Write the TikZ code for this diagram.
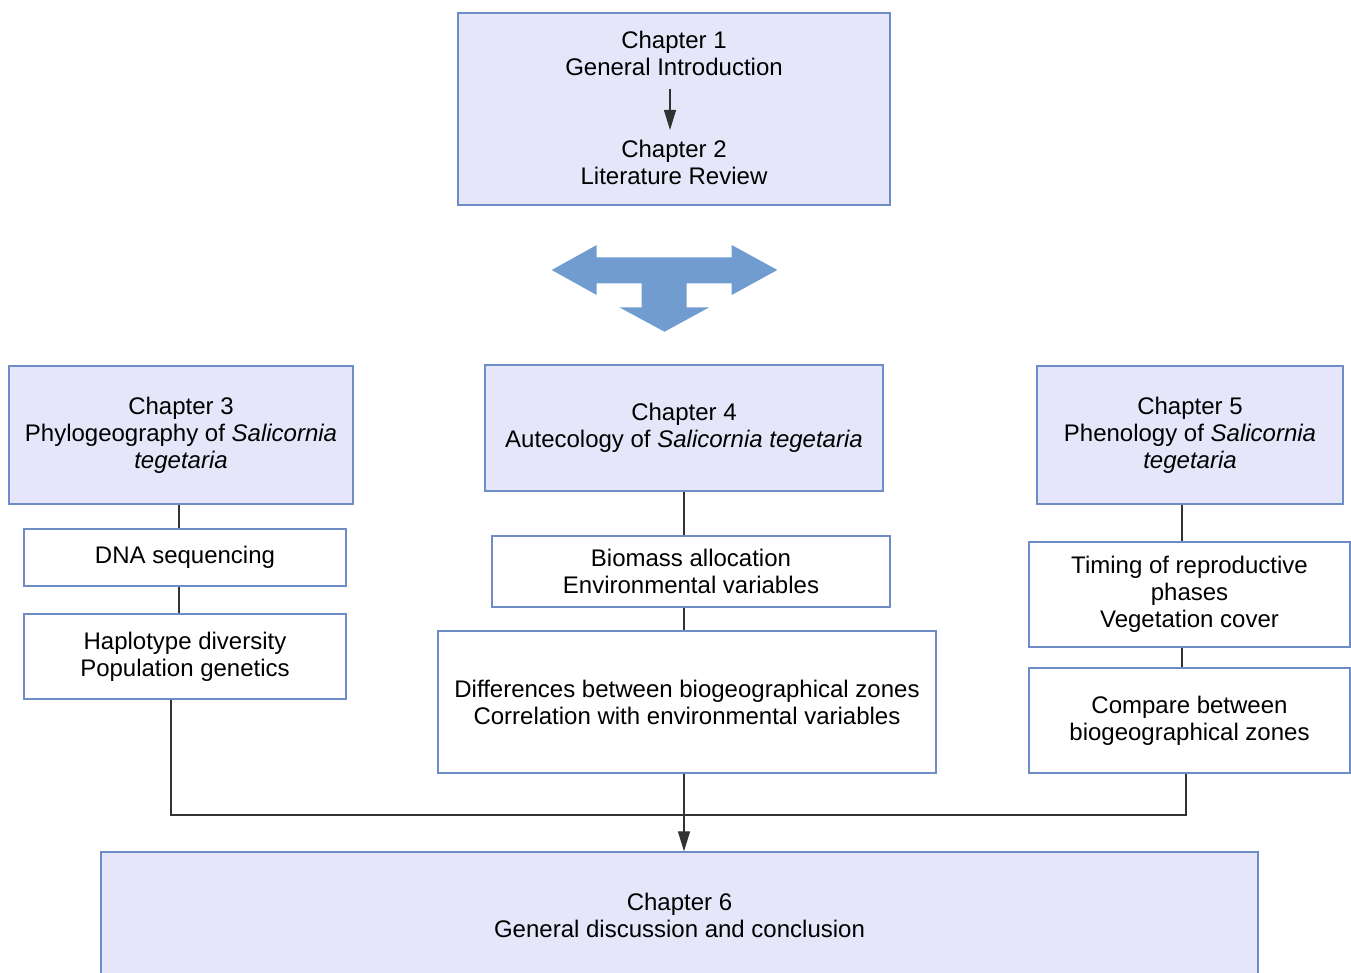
\documentclass[tikz,border=0pt]{standalone}
\usepackage{fontspec}
\setmainfont{Liberation Sans}
\usetikzlibrary{calc,arrows.meta}
\definecolor{chfill}{RGB}{230,230,250}
\definecolor{bord}{RGB}{110,140,200}
\definecolor{bigarrow}{RGB}{112,156,208}
\definecolor{connc}{RGB}{50,50,50}
\begin{document}
\begin{tikzpicture}[x=1pt,y=-1pt,
 box/.style={draw=bord,line width=1.3pt,rectangle,inner sep=0pt,align=center,font=\fontsize{24}{27}\selectfont},
 chbox/.style={box,fill=chfill},
 wbox/.style={box,fill=white},
 txt/.style={inner sep=0pt,align=center,font=\fontsize{24}{27}\selectfont},
 conn/.style={draw=connc,line width=1.2pt},
 arr/.style={conn,-{Triangle[length=20pt,width=12pt]}}]
\useasboundingbox (0,0) rectangle (1351,973);

% top box
\node[chbox,minimum width=432,minimum height=192] (top) at (674,109) {};
\node[txt] (ch1) at (674,53.5) {Chapter 1\\General Introduction};
\node[txt] (ch2) at (674,162.5) {Chapter 2\\Literature Review};
\draw[arr] ([xshift=-4pt,yshift=-13pt]ch1.south) -- ([xshift=-4pt,yshift=10pt]ch2.north);

% big arrow
\fill[bigarrow] (551.7,270) -- (596.7,245) -- (596.7,257.3) -- (731.7,257.3) -- (731.7,245) -- (777.3,270) -- (731.7,295) -- (731.7,283.3) -- (686.7,283.3) -- (686.7,307.3) -- (709.3,307.3) -- (664.5,331.7) -- (619.3,307.3) -- (641.7,307.3) -- (641.7,283.3) -- (596.7,283.3) -- (596.7,295) -- cycle;

% coordinates for connectors
\coordinate (c3) at (179,0);
\coordinate (c4) at (684,0);
\coordinate (c5) at (1182,0);
\coordinate (cl) at (171,815);
\coordinate (cr) at (1186,815);
\coordinate (cm) at (684,815);

% left column
\node[chbox,minimum width=344,minimum height=138] (ch3) at (181,435) {Chapter 3\\Phylogeography of \textit{Salicornia}\\\textit{tegetaria}};
\node[wbox,minimum width=322,minimum height=57] (dna) at (185,557.5) {DNA sequencing};
\node[wbox,minimum width=322,minimum height=85] (hap) at (185,656.5) {Haplotype diversity\\Population genetics};

% middle column
\node[chbox,minimum width=398,minimum height=126] (ch4) at (684,428) {Chapter 4\\Autecology of \textit{Salicornia tegetaria}};
\node[wbox,minimum width=398,minimum height=71] (bio) at (691,571.5) {Biomass allocation\\Environmental variables};
\node[wbox,minimum width=498,minimum height=142] (diff) at (687,702) {Differences between biogeographical zones\\Correlation with environmental variables};

% right column
\node[chbox,minimum width=306,minimum height=138] (ch5) at (1190,435) {Chapter 5\\Phenology of \textit{Salicornia}\\\textit{tegetaria}};
\node[wbox,minimum width=321,minimum height=105] (tim) at (1189.5,594.5) {Timing of reproductive\\phases\\Vegetation cover};
\node[wbox,minimum width=321,minimum height=105] (cmp) at (1189.5,720.5) {Compare between\\biogeographical zones};

% bottom
\node[chbox,minimum width=1157,minimum height=127] (ch6) at (679.5,915.5) {Chapter 6\\General discussion and conclusion};

% connectors
\draw[conn] (ch3.south -| c3) -- (dna.north -| c3);
\draw[conn] (dna.south -| c3) -- (hap.north -| c3);
\draw[conn] (ch4.south -| c4) -- (bio.north -| c4);
\draw[conn] (bio.south -| c4) -- (diff.north -| c4);
\draw[conn] (ch5.south -| c5) -- (tim.north -| c5);
\draw[conn] (tim.south -| c5) -- (cmp.north -| c5);
\draw[conn] (hap.south -| cl) -- (cl) -- (cr) -- (cmp.south -| cr);
\draw[arr] (diff.south -| cm) -- (ch6.north -| cm);
\end{tikzpicture}
\end{document}
